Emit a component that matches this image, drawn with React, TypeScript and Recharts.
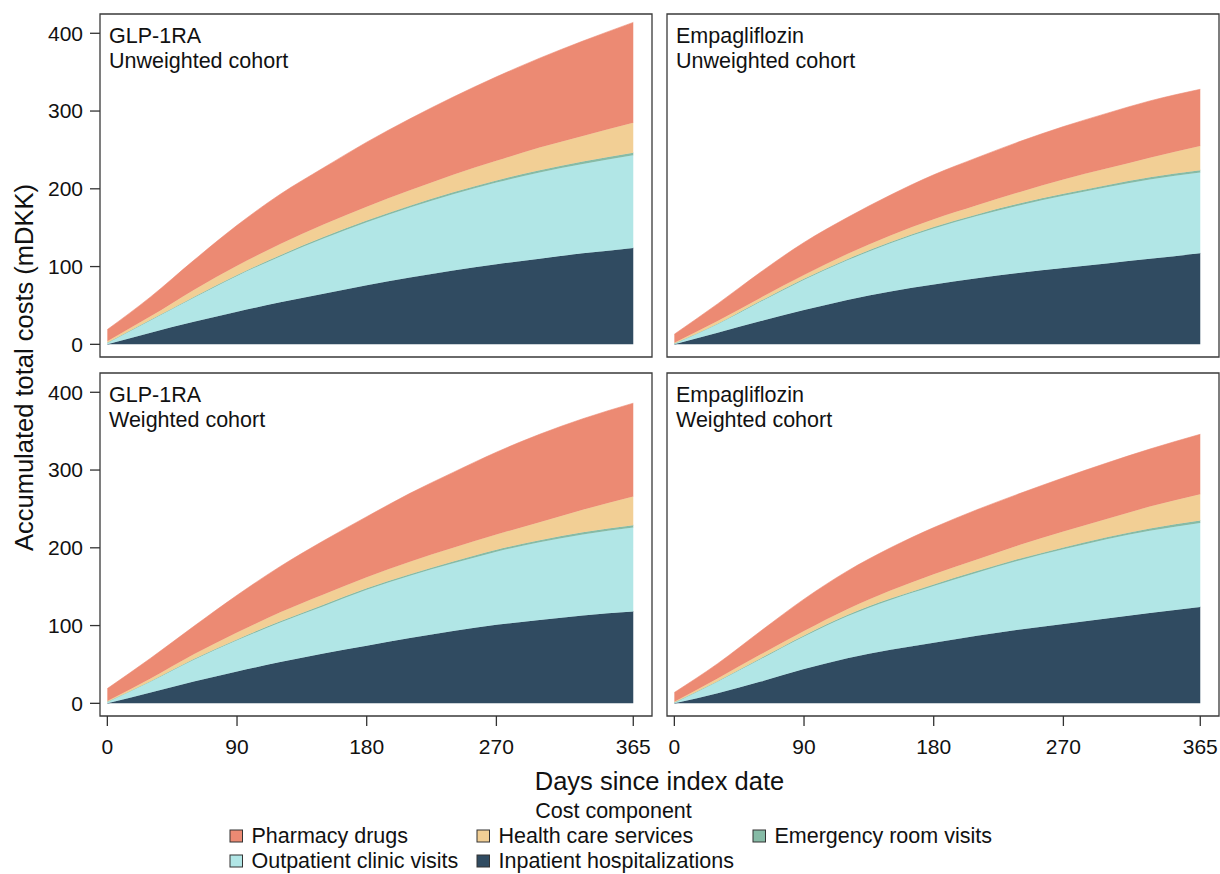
import { AreaChart, Area, XAxis, YAxis, ReferenceArea } from 'recharts'

// days since index date (sampling points)
const days = [0, 30, 60, 90, 120, 150, 180, 210, 240, 270, 300, 330, 365]

// GLP-1RA, unweighted cohort (mDKK, per component, not stacked)
const glpUInpatient = [0, 15, 29, 42, 54, 65, 76, 86, 95, 103, 110, 117, 124]
const glpUOutpatient = [2, 16, 31, 46, 59, 71, 81, 90, 98, 105, 111, 115, 119]
const glpUEr = [0, 0.5, 1, 1.3, 1.6, 1.9, 2.1, 2.3, 2.5, 2.7, 2.9, 3.1, 3.3]
const glpUHealth = [2, 4.5, 9, 11.7, 14.4, 16.1, 17.9, 19.7, 22.5, 25.3, 29.1, 32.9, 38.7]
const glpUPharmacy = [15, 25, 38, 52, 64, 73, 83, 92, 100, 108, 115, 122, 129]

// Empagliflozin, unweighted cohort
const empUInpatient = [0, 15, 30, 44, 57, 68, 77, 85, 92, 98, 104, 110, 117]
const empUOutpatient = [1, 11, 25, 39, 51, 62, 72, 80, 87, 93, 98, 102, 104]
const empUEr = [0, 0.5, 1, 1.2, 1.5, 1.7, 1.9, 2.1, 2.3, 2.5, 2.7, 2.9, 3]
const empUHealth = [1, 3.5, 4, 4.8, 6.5, 8.3, 10.1, 11.9, 14.7, 18.5, 21.3, 25.1, 31]
const empUPharmacy = [11, 22, 33, 42, 47, 52, 57, 61, 65, 68, 71, 73, 73]

// GLP-1RA, weighted cohort
const glpWInpatient = [0, 14, 28, 41, 53, 64, 74, 84, 93, 101, 107, 113, 118]
const glpWOutpatient = [2, 14, 28, 40, 51, 61, 72, 80, 87, 94, 100, 104, 108]
const glpWEr = [0, 0.5, 1, 1.2, 1.5, 1.7, 1.9, 2.1, 2.3, 2.5, 2.7, 2.9, 3]
const glpWHealth = [1, 3.5, 6, 8.8, 11.5, 13.3, 14.1, 15.9, 17.7, 19.5, 23.3, 29.1, 37]
const glpWPharmacy = [16, 26, 36, 48, 59, 69, 78, 88, 97, 106, 113, 117, 120]

// Empagliflozin, weighted cohort
const empWInpatient = [0, 13, 28, 44, 58, 69, 78, 87, 95, 102, 109, 116, 124]
const empWOutpatient = [1, 15, 29, 42, 54, 64, 73, 81, 89, 96, 102, 106, 108]
const empWEr = [0, 0.5, 1, 1.2, 1.5, 1.7, 1.9, 2.1, 2.3, 2.5, 2.7, 2.9, 3]
const empWHealth = [1, 3.5, 5, 5.8, 7.5, 10.3, 13.1, 14.9, 17.7, 20.5, 23.3, 28.1, 34]
const empWPharmacy = [12, 19, 30, 41, 49, 55, 60, 64, 66, 69, 72, 74, 77]

const xTicks = [0, 90, 180, 270, 365]
const yTicks = [0, 100, 200, 300, 400]

// stacking order, bottom to top
const series = [
  { key: 'inpatient', name: 'Inpatient hospitalizations', color: '#304B61' },
  { key: 'outpatient', name: 'Outpatient clinic visits', color: '#B1E6E6' },
  { key: 'er', name: 'Emergency room visits', color: '#86BBA6' },
  { key: 'healthcare', name: 'Health care services', color: '#F2CF95' },
  { key: 'pharmacy', name: 'Pharmacy drugs', color: '#EC8A73' },
]

const legendOrder = ['pharmacy', 'healthcare', 'er', 'outpatient', 'inpatient']

const FONT = '"Liberation Sans", Arial, Helvetica, sans-serif'
const X_DOMAIN: [number, number] = [-5.1, 378]
const Y_DOMAIN: [number, number] = [-16.3, 424.8]
const PLOT_W = 552
const PLOT_H = 343

function buildRows(inp: number[], out: number[], er: number[], hc: number[], ph: number[]) {
  return days.map((d, i) => ({
    day: d,
    inpatient: inp[i],
    outpatient: out[i],
    er: er[i],
    healthcare: hc[i],
    pharmacy: ph[i],
  }))
}

const panels = [
  {
    id: 'glpU', drug: 'GLP-1RA', cohort: 'Unweighted cohort', left: 100, top: 14, showX: false, showY: true,
    data: buildRows(glpUInpatient, glpUOutpatient, glpUEr, glpUHealth, glpUPharmacy),
  },
  {
    id: 'empU', drug: 'Empagliflozin', cohort: 'Unweighted cohort', left: 667, top: 14, showX: false, showY: false,
    data: buildRows(empUInpatient, empUOutpatient, empUEr, empUHealth, empUPharmacy),
  },
  {
    id: 'glpW', drug: 'GLP-1RA', cohort: 'Weighted cohort', left: 100, top: 373, showX: true, showY: true,
    data: buildRows(glpWInpatient, glpWOutpatient, glpWEr, glpWHealth, glpWPharmacy),
  },
  {
    id: 'empW', drug: 'Empagliflozin', cohort: 'Weighted cohort', left: 667, top: 373, showX: true, showY: false,
    data: buildRows(empWInpatient, empWOutpatient, empWEr, empWHealth, empWPharmacy),
  },
]

function Panel({ p }: { p: (typeof panels)[number] }) {
  const m = { top: 10, right: 10, bottom: p.showX ? 0 : 10, left: p.showY ? 10 : 70 }
  const w = 70 + PLOT_W + 10
  const h = 10 + PLOT_H + (p.showX ? 50 : 10)
  return (
    <div style={{ position: 'absolute', left: p.left - 70, top: p.top - 10 }}>
      <AreaChart width={w} height={h} data={p.data} margin={m}>
        <XAxis
          type="number"
          dataKey="day"
          domain={X_DOMAIN}
          ticks={xTicks}
          allowDataOverflow
          hide={!p.showX}
          height={50}
          axisLine={false}
          tickSize={10}
          tickMargin={13}
          tickLine={{ stroke: '#333', strokeWidth: 1.3 }}
          tick={{ fontSize: 21, fill: '#111' }}
        />
        <YAxis
          type="number"
          domain={Y_DOMAIN}
          ticks={yTicks}
          allowDataOverflow
          hide={!p.showY}
          width={60}
          axisLine={false}
          tickSize={10}
          tickMargin={7}
          tickLine={{ stroke: '#333', strokeWidth: 1.3 }}
          tick={{ fontSize: 21, fill: '#111' }}
        />
        {series.map((s) => (
          <Area
            key={s.key}
            type="monotone"
            dataKey={s.key}
            name={s.name}
            stackId="cost"
            stroke={s.color}
            strokeWidth={0.6}
            fill={s.color}
            fillOpacity={1}
            dot={false}
            activeDot={false}
            isAnimationActive={false}
          />
        ))}
        <ReferenceArea
          x1={X_DOMAIN[0]}
          x2={X_DOMAIN[1]}
          y1={Y_DOMAIN[0]}
          y2={Y_DOMAIN[1]}
          fill="none"
          stroke="#3a3a3a"
          strokeWidth={1.3}
        />
      </AreaChart>
    </div>
  )
}

export default function App() {
  const legendCols = [230, 477, 753]
  const legendRows = [830, 855]
  return (
    <div
      style={{
        position: 'absolute',
        left: 0,
        top: 0,
        width: 1220,
        height: 874,
        background: '#fff',
        overflow: 'hidden',
        fontFamily: FONT,
      }}
    >
      {panels.map((p) => (
        <Panel key={p.id} p={p} />
      ))}
      <svg
        width={1220}
        height={874}
        style={{ position: 'absolute', left: 0, top: 0, pointerEvents: 'none', fontFamily: FONT }}
      >
        {panels.map((p) => (
          <g key={p.id} fill="#111" fontSize={21.5}>
            <text x={p.left + 9} y={p.top + 29.3}>{p.drug}</text>
            <text x={p.left + 9} y={p.top + 53.5}>{p.cohort}</text>
          </g>
        ))}
        <text transform="translate(33,367.5) rotate(-90)" textAnchor="middle" fontSize={25.5} fill="#111">
          Accumulated total costs (mDKK)
        </text>
        <text x={659.5} y={790} textAnchor="middle" fontSize={25.5} fill="#111">
          Days since index date
        </text>
        <text x={613.5} y={818} textAnchor="middle" fontSize={21.5} fill="#111">
          Cost component
        </text>
        {legendOrder.map((k, i) => {
          const s = series.find((q) => q.key === k)!
          const x = legendCols[i % 3]
          const y = legendRows[Math.floor(i / 3)]
          return (
            <g key={k}>
              <rect x={x} y={y} width={12.5} height={12} fill={s.color} stroke="#333" strokeWidth={1} />
              <text x={x + 21.5} y={y + 12.6} fontSize={21.5} fill="#111">
                {s.name}
              </text>
            </g>
          )
        })}
      </svg>
    </div>
  )
}
